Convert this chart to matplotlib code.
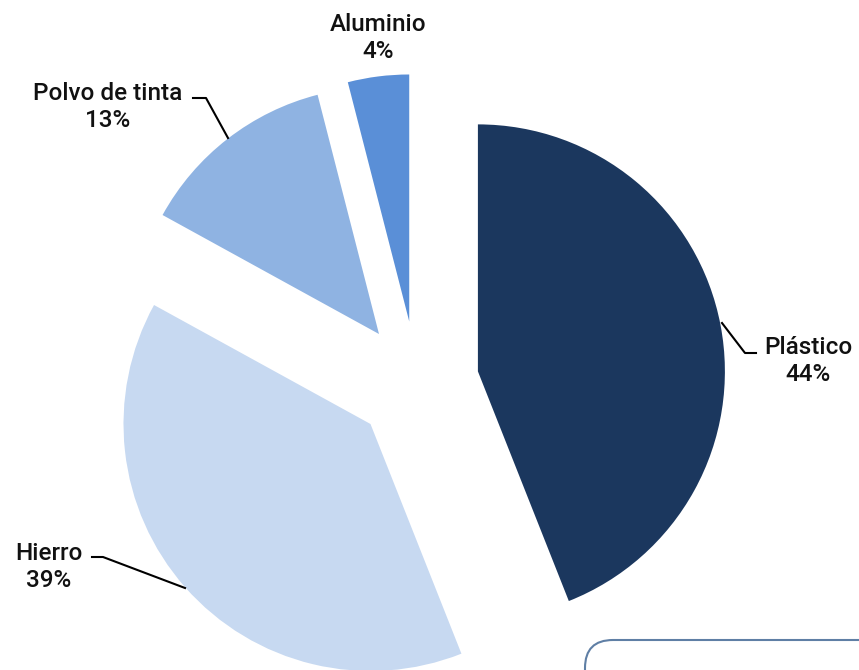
import matplotlib.pyplot as plt
from matplotlib.patches import FancyBboxPatch

etiquetas = ["Plástico", "Hierro", "Polvo de tinta", "Aluminio"]
valores = [44, 39, 13, 4]
colores = ["#1b375e", "#c7d9f1", "#8fb3e2", "#5a8fd7"]

W, H = 859, 670
fig = plt.figure(figsize=(W / 100, H / 100), dpi=100)
ax = fig.add_axes([0, 0, 1, 1])

# pie en coordenadas de pixel (y hacia arriba); explode es absoluto
ax.pie(valores, colors=colores, startangle=90, counterclock=False,
       explode=[62] * 4, radius=247, center=(417, H - 383),
       wedgeprops=dict(linewidth=0), frame=True)
ax.set_xlim(0, W)
ax.set_ylim(0, H)
ax.set_aspect("equal")
ax.axis("off")

fuente = dict(fontsize=17.5, fontweight="medium", family="Roboto", ha="center",
              va="center", color="#111111", linespacing=1.2)

def y(v):
    return H - v

# texto de las etiquetas
ax.text(808, y(361), f"{etiquetas[0]}\n{valores[0]}%", **fuente)
ax.text(49, y(567), f"{etiquetas[1]}\n{valores[1]}%", **fuente)
ax.text(108, y(107), f"{etiquetas[2]}\n{valores[2]}%", **fuente)
ax.text(378, y(38), f"{etiquetas[3]}\n{valores[3]}%", **fuente)

# lineas guia
lw = 1.5
ax.plot([722, 745, 756], [y(323), y(353), y(353)], color="black", lw=lw)
ax.plot([92, 103, 185], [y(557), y(557), y(588)], color="black", lw=lw)
ax.plot([193, 206, 228], [y(98), y(98), y(138)], color="black", lw=lw)

# recuadro parcial abajo a la derecha
caja = FancyBboxPatch((585, y(720)), 320, 80,
                      boxstyle="round,pad=0,rounding_size=28",
                      fill=False, edgecolor="#5f7fa5", lw=1.5)
ax.add_patch(caja)

fig.savefig("out.png", dpi=100)
